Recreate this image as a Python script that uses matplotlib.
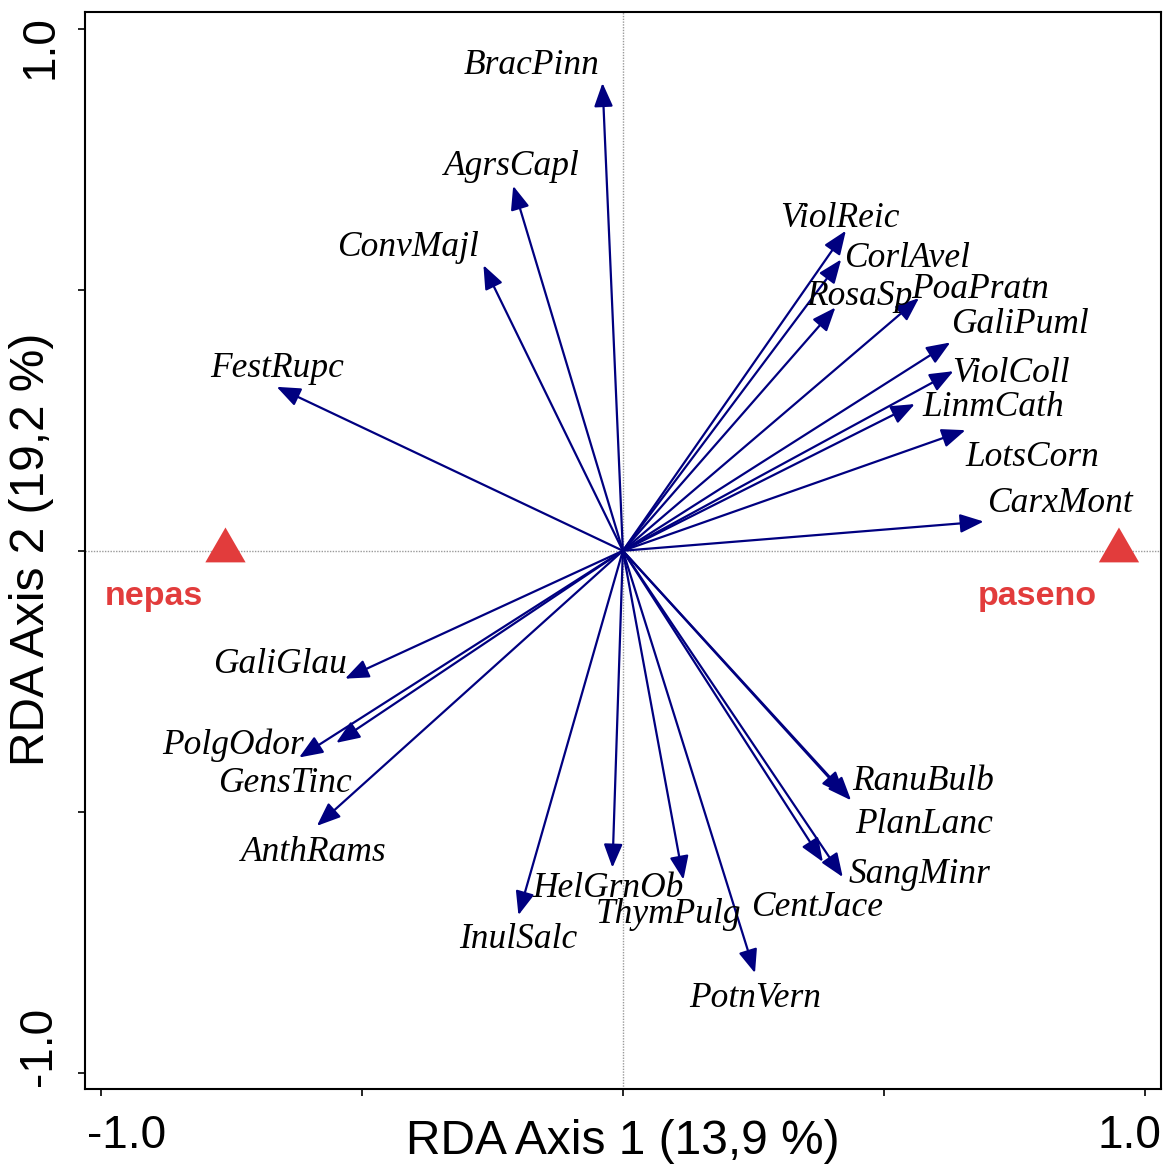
import matplotlib
matplotlib.use("Agg")
import matplotlib.pyplot as plt
from matplotlib.patches import FancyArrowPatch
from matplotlib.path import Path

# ---------------- data ----------------
species = ["BracPinn", "AgrsCapl", "ConvMajl", "FestRupc", "ViolReic", "CorlAvel",
           "RosaSp", "PoaPratn", "GaliPuml", "ViolColl", "LinmCath", "LotsCorn",
           "CarxMont", "GaliGlau", "PolgOdor", "GensTinc", "AnthRams", "InulSalc",
           "HelGrnOb", "ThymPulg", "PotnVern", "CentJace", "RanuBulb", "PlanLanc",
           "SangMinr"]
rda1 = [-0.039, -0.210, -0.267, -0.663, 0.427, 0.418,
        0.407, 0.567, 0.627, 0.633, 0.559, 0.656,
        0.691, -0.532, -0.620, -0.549, -0.586, -0.200,
        -0.020, 0.116, 0.253, 0.383, 0.425, 0.437,
        0.421]
rda2 = [0.896, 0.699, 0.547, 0.314, 0.613, 0.558,
        0.466, 0.484, 0.399, 0.344, 0.281, 0.231,
        0.056, -0.245, -0.396, -0.368, -0.527, -0.698,
        -0.607, -0.630, -0.809, -0.596, -0.468, -0.478,
        -0.625]

groups = ["nepas", "paseno"]
group_rda1 = [-0.761, 0.950]
group_rda2 = [0.0, 0.0]

xlabel = "RDA Axis 1 (13,9 %)"
ylabel = "RDA Axis 2 (19,2 %)"
tick_vals = [-1.0, -0.5, 0.0, 0.5, 1.0]

# ---------------- layout (label placement) ----------------
label_pos = {
    "BracPinn": (-0.175, 0.913), "AgrsCapl": (-0.213, 0.720), "ConvMajl": (-0.411, 0.565),
    "FestRupc": (-0.663, 0.333), "ViolReic": (0.416, 0.620), "CorlAvel": (0.545, 0.543),
    "RosaSp": (0.453, 0.471), "PoaPratn": (0.684, 0.484), "GaliPuml": (0.760, 0.417),
    "ViolColl": (0.744, 0.323), "LinmCath": (0.709, 0.258), "LotsCorn": (0.784, 0.162),
    "CarxMont": (0.836, 0.074), "GaliGlau": (-0.656, -0.234), "PolgOdor": (-0.747, -0.390),
    "GensTinc": (-0.647, -0.462), "AnthRams": (-0.591, -0.595), "InulSalc": (-0.201, -0.761),
    "HelGrnOb": (-0.029, -0.664), "ThymPulg": (0.088, -0.713), "PotnVern": (0.254, -0.874),
    "CentJace": (0.372, -0.700), "RanuBulb": (0.575, -0.459), "PlanLanc": (0.576, -0.541),
    "SangMinr": (0.569, -0.637),
}
group_label_pos = {"nepas": (-0.898, -0.104), "paseno": (0.794, -0.104)}

W, H = 1165, 1164
fig = plt.figure(figsize=(W / 100, H / 100), dpi=100)
ax = fig.add_axes([85 / W, 1 - 1089 / H, (1161 - 85) / W, (1089 - 12) / H])
ax.set_xlim(-1.030, 1.0305)
ax.set_ylim(-1.031, 1.032)

SERIF = ["Liberation Serif", "DejaVu Serif"]
SANS = ["Liberation Sans", "DejaVu Sans"]
ARROW_COL = "#000080"
RED = "#E23C3C"

# zero lines
ax.axhline(0, color="#9a9a9a", lw=1.0, ls=(0, (1, 1)), zorder=1)
ax.axvline(0, color="#9a9a9a", lw=1.0, ls=(0, (1, 1)), zorder=1)

# species arrows
for name, x, y in zip(species, rda1, rda2):
    arr = FancyArrowPatch((0, 0), (x, y), arrowstyle="-|>,head_length=0.6,head_width=0.24",
                          mutation_scale=24, color=ARROW_COL, lw=1.6,
                          shrinkA=0, shrinkB=0, zorder=3)
    ax.add_patch(arr)
    lx, ly = label_pos[name]
    ax.text(lx, ly, name, family=SERIF, style="italic", fontsize=25.5,
            ha="center", va="baseline", color="black", zorder=4)

# group centroids (equilateral triangles centred on centroid)
tri = Path([(-1.0, -0.577), (1.0, -0.577), (0.0, 1.155), (-1.0, -0.577)],
           [Path.MOVETO, Path.LINETO, Path.LINETO, Path.CLOSEPOLY])
ax.scatter(group_rda1, group_rda2, marker=tri, s=33.5 ** 2, color=RED,
           edgecolors="none", zorder=5, clip_on=False)
for g in groups:
    gx, gy = group_label_pos[g]
    ax.text(gx, gy, g, family=SANS, weight="bold", fontsize=24.5,
            ha="center", va="baseline", color=RED, zorder=5)

# frame and ticks
for sp in ax.spines.values():
    sp.set_linewidth(1.5)
ax.set_xticks(tick_vals)
ax.set_yticks(tick_vals)
ax.set_xticklabels([])
ax.set_yticklabels([])
ax.tick_params(direction="out", length=5, width=1.2)

# tick labels (placed like the original)
def fx(px):
    return px / W

def fy(py):
    return 1 - py / H

fig.text(fx(126.5), fy(1148), "-1.0", family=SANS, fontsize=33, ha="center", va="baseline")
fig.text(fx(1129), fy(1148), "1.0", family=SANS, fontsize=33, ha="center", va="baseline")
fig.text(fx(40), fy(47), "1.0", family=SANS, fontsize=33, rotation=90, ha="center", va="center")
fig.text(fx(39), fy(1046), "-1.0", family=SANS, fontsize=33, rotation=90, ha="center", va="center")

fig.text(fx(623), fy(1154), xlabel, family=SANS, fontsize=34.5, ha="center", va="baseline")
fig.text(fx(32), fy(549), ylabel, family=SANS, fontsize=34.5, rotation=90, ha="center", va="center")

fig.savefig("out.png", dpi=100, facecolor="white")
